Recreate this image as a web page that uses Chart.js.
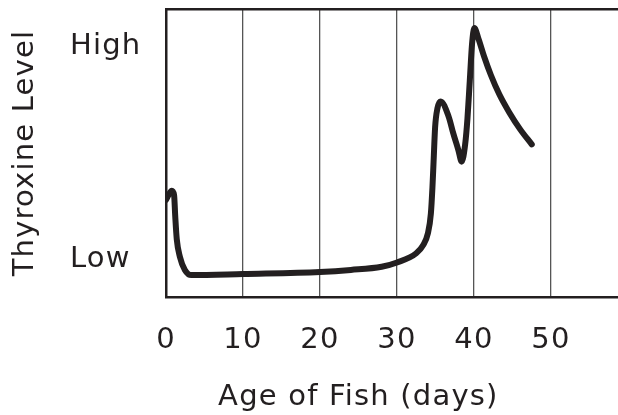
<!DOCTYPE html>
<html><head><meta charset="utf-8">
<script src="https://cdn.jsdelivr.net/npm/chart.js@4"></script>
<style>html,body{margin:0;padding:0;background:#fff}</style>
</head><body>
<canvas id="c" width="618" height="415"></canvas>
<script>
// Age of fish (days) and relative thyroxine level (0 = bottom of axis, 100 = top)
const ageDays   = [0, 0.35, 0.75, 1.05, 1.2, 1.4, 1.8, 2.45, 3.3, 10, 20, 24, 28, 30, 32.5, 33.4, 34.0, 34.4, 34.6, 34.75, 34.95, 35.25, 35.67, 36.7, 37.3, 37.96, 38.4, 38.85, 39.15, 39.45, 39.75, 40.04, 40.6, 41.3, 42.2, 43.3, 44.6, 46.0, 47.5];
const thyroxine = [33.7, 35.5, 36.9, 35.4, 28, 20, 14, 9.4, 7.6, 8.0, 8.7, 9.4, 10.5, 12.0, 15.2, 18, 22, 29, 38, 47, 59, 65.5, 67.9, 62.7, 56.9, 51.1, 47, 53, 62, 75, 88, 93.4, 89.5, 83.6, 77.0, 70.3, 64.0, 58.2, 53.0];
const xTickValues = [0, 10, 20, 30, 40, 50];
const yTickValues = [13, 87];
const yTickLabels = ['Low', 'High'];
const xTitle = 'Age of Fish (days)';
const yTitle = 'Thyroxine Level';

const ink = '#231f20';
const font = {family: 'DejaVu Sans', size: 29};
Chart.defaults.color = ink;

function spacing(chart) {
  const ctx = chart.ctx;
  if ('letterSpacing' in ctx) ctx.letterSpacing = '1.2px';
}
const spacingPlugin = {
  id: 'spacing',
  beforeUpdate: spacing,
  beforeLayout: spacing,
  beforeDraw: spacing
};

new Chart(document.getElementById('c'), {
  type: 'line',
  plugins: [spacingPlugin],
  data: {
    datasets: [{
      data: ageDays.map((x, i) => ({x: x, y: thyroxine[i]})),
      xAxisID: 'x', yAxisID: 'y',
      borderColor: ink, borderWidth: 6,
      pointRadius: 0, fill: false,
      cubicInterpolationMode: 'monotone',
      borderCapStyle: 'round', borderJoinStyle: 'round'
    }]
  },
  options: {
    responsive: false,
    animation: false,
    layout: {padding: {top: 9, right: 0, left: 0, bottom: 0}},
    plugins: {legend: {display: false}, tooltip: {enabled: false}},
    scales: {
      x: {
        type: 'linear', position: 'bottom', min: 0, max: 58.7,
        afterBuildTicks: s => { s.ticks = xTickValues.map(v => ({value: v})); },
        ticks: {font: font, color: ink, padding: 26, maxRotation: 0, autoSkip: false},
        grid: {
          drawTicks: false,
          lineWidth: 1.3,
          color: c => (c.tick && c.tick.value === 0) ? 'rgba(0,0,0,0)' : '#555555'
        },
        border: {display: true, color: ink, width: 2.5},
        title: {display: true, text: '     ' + xTitle, align: 'start', font: font, color: ink, padding: {top: 0, bottom: 0}},
        afterFit: s => { s.height = 118; s.paddingLeft = 0; s.paddingRight = 0; }
      },
      xTop: {
        type: 'linear', position: 'top', min: 0, max: 58.7,
        grid: {display: false},
        ticks: {display: false},
        border: {display: true, color: ink, width: 2.5},
        afterFit: s => { s.height = 0; s.paddingLeft = 0; s.paddingRight = 0; }
      },
      yT: {
        type: 'linear', position: 'left', weight: 1, min: 0, max: 100,
        grid: {display: false},
        ticks: {display: false},
        border: {display: false},
        title: {display: true, text: yTitle, font: font, color: ink, padding: {top: 8, bottom: 0}},
        afterFit: s => { s.width = 70; s.paddingTop = 0; s.paddingBottom = 0; }
      },
      y: {
        type: 'linear', position: 'left', weight: 0, min: 0, max: 100,
        afterBuildTicks: s => { s.ticks = yTickValues.map(v => ({value: v})); },
        ticks: {
          font: font, color: ink, crossAlign: 'far', padding: 0,
          callback: (v, i) => yTickLabels[i]
        },
        grid: {display: false},
        border: {display: true, color: ink, width: 2.5},
        afterFit: s => { s.width = 96; s.paddingTop = 0; s.paddingBottom = 0; }
      }
    }
  }
});
</script>
</body></html>
